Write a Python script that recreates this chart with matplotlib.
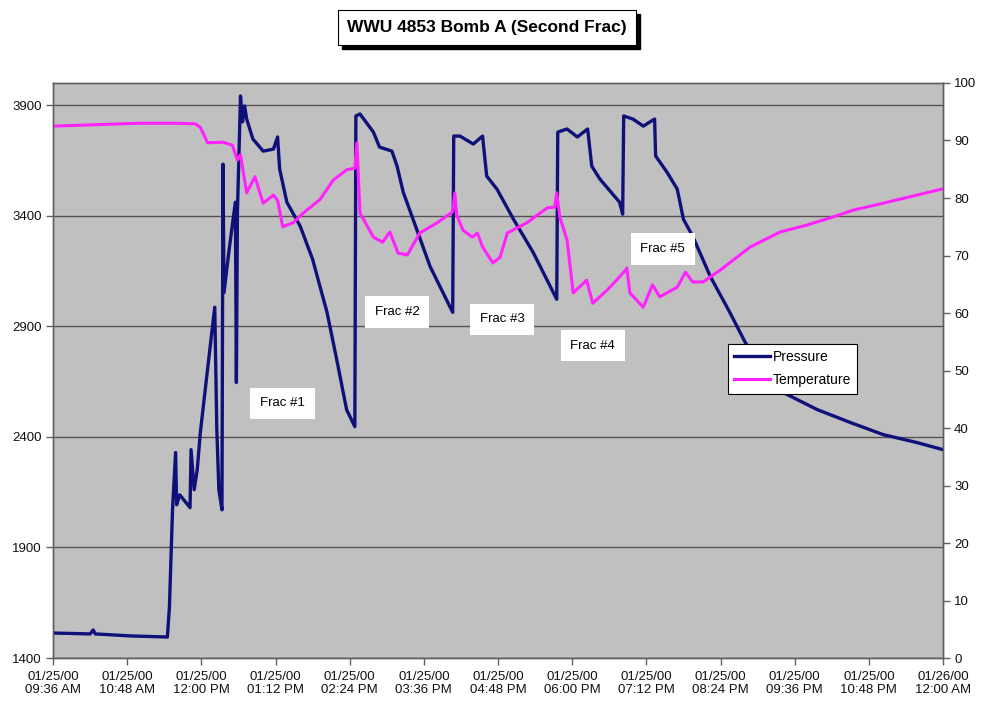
import matplotlib
matplotlib.use("Agg")
import matplotlib.pyplot as plt
import matplotlib.dates as mdates
from matplotlib.patches import Rectangle
import pandas as pd

plt.rcParams['font.family'] = ['Liberation Sans', 'DejaVu Sans']

TITLE = "WWU 4853 Bomb A (Second Frac)"
DAY = pd.Timestamp("2000-01-25")

# pressure (psi)
press_time = ["09:36", "10:12", "10:15", "10:17", "10:51", "11:27", "11:29", "11:32",
              "11:35", "11:36", "11:39", "11:49", "11:50", "11:53", "11:56", "11:59",
              "12:06", "12:13", "12:15", "12:17", "12:20", "12:21", "12:22", "12:27",
              "12:33", "12:34", "12:35", "12:38", "12:40", "12:42", "12:44", "12:50",
              "13:00", "13:10", "13:14", "13:16", "13:23", "13:36", "13:48", "14:02",
              "14:12", "14:21", "14:29", "14:30", "14:34", "14:47", "14:53", "15:05",
              "15:10", "15:16", "15:29", "15:42", "16:04", "16:05", "16:11", "16:24",
              "16:33", "16:37", "16:47", "17:03", "17:22", "17:45", "17:46", "17:55",
              "18:05", "18:15", "18:19", "18:27", "18:46", "18:49", "18:50", "18:59",
              "19:09", "19:20", "19:21", "19:32", "19:42", "19:48", "19:57", "20:14",
              "20:33", "20:48", "21:05", "21:25", "21:58", "22:30", "23:02", "23:35",
              "24:00"]
press_psi = [1513, 1509, 1527, 1509, 1500, 1495, 1631, 2070,
             2329, 2093, 2138, 2080, 2342, 2161, 2252, 2419,
             2705, 2986, 2433, 2161, 2070, 3633, 3053, 3248,
             3461, 2646, 3416, 3941, 3824, 3896, 3837, 3747,
             3692, 3701, 3756, 3611, 3461, 3352, 3203, 2963,
             2736, 2523, 2446, 3851, 3860, 3778, 3710, 3692,
             3624, 3506, 3339, 3171, 2963, 3760, 3760, 3724,
             3760, 3579, 3520, 3384, 3235, 3022, 3778, 3792,
             3756, 3792, 3624, 3565, 3461, 3407, 3851, 3837,
             3805, 3837, 3670, 3597, 3520, 3384, 3307, 3126,
             2963, 2827, 2705, 2600, 2523, 2465, 2410, 2374,
             2342]

# temperature
temp_time = ["09:36", "11:00", "11:36", "11:54", "11:59", "12:06", "12:21", "12:30",
             "12:35", "12:38", "12:44", "12:52", "13:00", "13:10", "13:14", "13:19",
             "13:29", "13:39", "13:55", "14:08", "14:21", "14:29", "14:31", "14:34",
             "14:47", "14:56", "15:03", "15:11", "15:20", "15:32", "15:49", "16:04",
             "16:06", "16:08", "16:14", "16:23", "16:28", "16:33", "16:43", "16:50",
             "16:57", "17:16", "17:36", "17:43", "17:45", "17:48", "17:55", "18:01",
             "18:14", "18:20", "18:34", "18:43", "18:52", "18:53", "18:56", "19:09",
             "19:18", "19:25", "19:42", "19:50", "19:57", "20:07", "20:24", "20:53",
             "21:22", "21:48", "22:13", "22:33", "23:02", "24:00"]
temp_deg = [92.5, 93.0, 93.0, 92.9, 92.3, 89.6, 89.7, 89.2,
            86.6, 87.5, 80.9, 83.7, 79.1, 80.5, 79.6, 75.0,
            75.7, 77.4, 79.7, 83.1, 84.9, 85.2, 89.6, 77.4,
            73.2, 72.3, 74.1, 70.4, 70.1, 73.9, 75.7, 77.6,
            80.9, 77.0, 74.4, 73.2, 73.9, 71.5, 68.7, 69.7,
            73.9, 75.7, 78.3, 78.4, 80.9, 76.7, 72.7, 63.5,
            65.7, 61.7, 64.0, 65.7, 67.5, 67.8, 63.5, 61.0,
            64.9, 62.8, 64.5, 67.1, 65.4, 65.4, 67.5, 71.5,
            74.1, 75.3, 76.7, 77.9, 79.1, 81.6]

frac_labels = ["Frac #1", "Frac #2", "Frac #3", "Frac #4", "Frac #5"]
frac_label_time = ["13:19", "15:10", "16:52", "18:20", "19:28"]
frac_label_psi = [2551, 2963, 2931, 2813, 3248]


def to_dt(times):
    out = []
    for t in times:
        h, m = t.split(":")
        out.append(DAY + pd.Timedelta(hours=int(h), minutes=int(m)))
    return out


def main():
    W, H = 982, 713
    fig = plt.figure(figsize=(W / 100, H / 100), dpi=100)
    ax1 = fig.add_axes([0.054, 0.0771, 0.9063, 0.8065])
    ax1.set_facecolor("#c0c0c0")

    ax1.plot(to_dt(press_time), press_psi, color="#10107a", lw=2.4,
             label="Pressure", zorder=3)
    ax1.set_ylim(1400, 4000)
    ax1.set_yticks([1400, 1900, 2400, 2900, 3400, 3900])
    ax1.yaxis.grid(True, color="#5a5050", lw=1.0)
    ax1.set_axisbelow(True)

    ax1.set_xlim(DAY + pd.Timedelta(hours=9, minutes=36), DAY + pd.Timedelta(hours=24))
    ax1.set_xticks(pd.date_range(DAY + pd.Timedelta(hours=9, minutes=36),
                                 DAY + pd.Timedelta(hours=24), freq="72min"))
    ax1.xaxis.set_major_formatter(mdates.DateFormatter("%m/%d/%y\n%I:%M %p"))

    ax2 = ax1.twinx()  # temperature on the right
    ax2.plot(to_dt(temp_time), temp_deg, color="#ff22ff", lw=2.2,
             label="Temperature", zorder=2)
    ax2.set_ylim(0, 100)
    ax2.set_yticks(range(0, 101, 10))

    for ax in (ax1, ax2):
        for s in ax.spines.values():
            s.set_color("#606060")
            s.set_linewidth(1.0)
        ax.tick_params(direction="out", length=5, width=1, color="#606060",
                       labelsize=9.5, labelcolor="#111111", pad=3)
    ax1.tick_params(axis="x", labelsize=9.5, pad=4)

    for txt, t, p in zip(frac_labels, to_dt(frac_label_time), frac_label_psi):
        ax1.text(t, p, txt, ha="center", va="center", fontsize=9.5, zorder=5,
                 bbox=dict(boxstyle="square,pad=0.75", fc="white", ec="none"))

    h1, l1 = ax1.get_legend_handles_labels()
    h2, l2 = ax2.get_legend_handles_labels()
    leg = ax2.legend(h1 + h2, l1 + l2, loc="upper left",
                     bbox_to_anchor=(728 / W, 1 - 344 / H),
                     bbox_transform=fig.transFigure, fontsize=10, frameon=True,
                     fancybox=False, framealpha=1, edgecolor="black",
                     handlelength=2.6, handletextpad=0.15, borderpad=0.45,
                     labelspacing=0.65, borderaxespad=0)
    leg.get_frame().set_linewidth(0.8)
    leg.set_zorder(10)

    # title box with drop shadow (pixels: x 338-636, y 10-45)
    bx, by, bw, bh = 338, 10, 298, 35
    fig.patches.append(Rectangle(((bx + 4) / W, 1 - (by + bh + 4) / H), bw / W, bh / H,
                                 transform=fig.transFigure, fc="black", ec="black"))
    fig.patches.append(Rectangle((bx / W, 1 - (by + bh) / H), bw / W, bh / H,
                                 transform=fig.transFigure, fc="white", ec="black",
                                 lw=0.8))
    fig.text((bx + bw / 2) / W, 1 - (by + bh / 2) / H, TITLE, ha="center",
             va="center", fontsize=12.5, fontweight="bold", color="black")

    fig.savefig("out.png", dpi=100)


if __name__ == "__main__":
    main()
